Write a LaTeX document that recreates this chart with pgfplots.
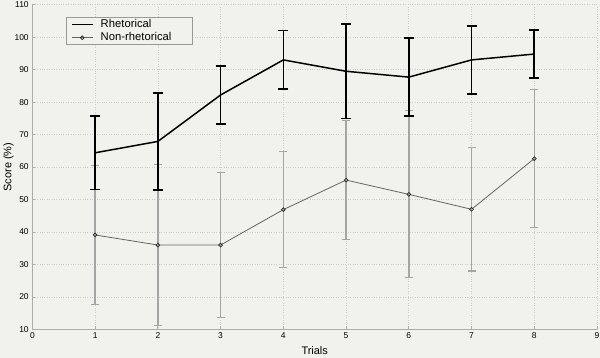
\documentclass[border=0pt]{standalone}
\usepackage{fontspec}
\setmainfont{Liberation Sans}
\usepackage{pgfplots}
\usepackage{pgfplotstable}
\pgfplotsset{compat=1.18}
\usetikzlibrary{backgrounds,calc}
\definecolor{bg}{RGB}{241,241,237}
\definecolor{errgray}{RGB}{165,165,165}
\definecolor{lingray}{RGB}{100,100,100}

\pgfplotstableread{
x y e
1 64.4 11.3
2 67.9 15.0
3 82.2 9.0
4 93.0 9.0
5 89.5 14.6
6 87.7 12.0
7 93.0 10.5
8 94.8 7.4
}\rhet

\pgfplotstableread{
x y e
1 39.1 21.5
2 36.0 24.8
3 36.0 22.4
4 46.9 17.9
5 56.0 18.3
6 51.6 25.7
7 47.0 19.0
8 62.6 21.2
}\nonrhet

\begin{document}
\begin{tikzpicture}
\begin{axis}[
  name=ax,
  scale only axis,
  width=565bp, height=325bp,
  xmin=0, xmax=9, ymin=10, ymax=110,
  xtick={0,...,9},
  ytick={10,20,...,110},
  axis x line*=bottom, axis y line*=left,
  axis line style={color=gray!65, line width=1bp},
  tick style={color=gray!65, line width=0.8bp},
  tick align=inside,
  major tick length=3bp,
  grid=major,
  grid style={dotted, color=gray!40, line width=0.7bp},
  /pgf/number format/assume math mode=true,
  ticklabel style={font=\fontsize{8.5}{10}\selectfont, text=black},
  yticklabel style={inner sep=0pt, xshift=-3.5bp},
  xticklabel style={inner sep=0pt, yshift=-3bp},
  xlabel={Trials},
  ylabel={Score (\%)},
  label style={font=\fontsize{11}{13}\selectfont},
  xlabel style={at={(axis description cs:0.5,-21/325)}, anchor=center},
  ylabel style={at={(axis description cs:-24/565,0.5)}, anchor=center},
  legend style={at={(axis description cs:34/565,1-12.6/325)}, anchor=north west,
    draw=gray!80, fill=bg, line width=0.8bp,
    font=\fontsize{11.3}{13}\selectfont,
    inner xsep=0pt, inner ysep=0.5bp, row sep=0pt, column sep=0pt,
    nodes={inner xsep=0pt, inner ysep=0.5bp, text height=9bp, text depth=3bp}},
  legend cell align=left,
  reverse legend,
  legend image code/.code={\path[draw=none, fill=none] (-5bp,0bp) -- (29bp,0bp);
    \draw[#1] (0bp,0bp) -- (21bp,0bp);
    \path[#1, only marks] plot coordinates {(10.5bp,0bp)};},
]
\addplot[lingray, line width=0.8bp, mark=o, mark size=1.9bp,
  mark options={solid, line width=0.7bp, draw=black!85},
  error bars/.cd, y dir=both, y explicit,
  error bar style={errgray, line width=1.4bp},
  error mark options={rotate=90, mark size=4bp, errgray, line width=1.2bp}]
  table[x=x, y=y, y error=e] {\nonrhet};
\addlegendentry{\makebox[92bp][l]{Non-rhetorical}}
\addplot[black, line width=1.5bp, mark=none,
  error bars/.cd, y dir=both, y explicit,
  error bar style={black, line width=1.6bp},
  error mark options={rotate=90, mark size=5bp, black, line width=1.6bp}]
  table[x=x, y=y, y error=e] {\rhet};
\addlegendentry{\makebox[92bp][l]{Rhetorical}}
\end{axis}
\begin{pgfonlayer}{background}
\fill[bg] ($(ax.south west)+(-32bp,-28.3bp)$) rectangle ($(ax.north east)+(3bp,4.7bp)$);
\end{pgfonlayer}
\end{tikzpicture}
\end{document}
